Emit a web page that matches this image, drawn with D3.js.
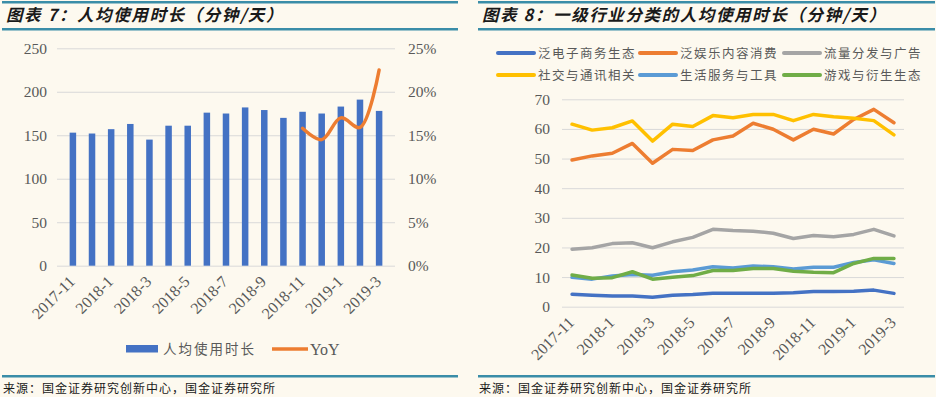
<!DOCTYPE html>
<html>
<head>
<meta charset="utf-8">
<script src="https://cdn.jsdelivr.net/npm/d3@7"></script>
<style>
  body { margin: 0; background: #fdf9ef; }
  svg { display: block; }
</style>
</head>
<body>
<div id="chart"></div>
<script>
// Data
const months = ["2017-11", "2017-12", "2018-1", "2018-2", "2018-3", "2018-4", "2018-5", "2018-6", "2018-7",
  "2018-8", "2018-9", "2018-10", "2018-11", "2018-12", "2019-1", "2019-2", "2019-3"];
const avgTime = [153, 152, 157, 163, 145, 161, 161, 176, 175, 182, 179, 170, 177, 175, 183, 191, 178];
const yoy = [null, null, null, null, null, null, null, null, null, null, null, null, 0.158, 0.145, 0.170, 0.159, 0.225];

const sectorNames = ["泛电子商务生态", "泛娱乐内容消费", "流量分发与广告", "社交与通讯相关", "生活服务与工具", "游戏与衍生生态"];
const ecommerce = [4.2, 3.9, 3.6, 3.6, 3.2, 3.9, 4.1, 4.5, 4.5, 4.5, 4.5, 4.7, 5.1, 5.1, 5.2, 5.6, 4.5];
const entertainment = [49.5, 50.9, 51.8, 55.1, 48.4, 53.1, 52.7, 56.3, 57.6, 61.9, 59.9, 56.3, 59.9, 58.3, 63.2, 66.6, 62.1];
const traffic = [19.4, 19.9, 21.3, 21.6, 19.9, 21.9, 23.4, 26.1, 25.7, 25.5, 24.8, 23.0, 24.0, 23.6, 24.4, 26.1, 23.9];
const social = [61.6, 59.6, 60.4, 62.7, 55.9, 61.6, 60.8, 64.5, 63.8, 64.9, 64.9, 62.8, 64.9, 64.1, 63.6, 62.8, 58.0];
const lifeTools = [9.9, 9.3, 10.4, 10.9, 10.6, 11.8, 12.4, 13.5, 13.1, 13.7, 13.5, 12.7, 13.3, 13.3, 14.9, 15.8, 14.6];
const games = [10.7, 9.6, 9.8, 11.8, 9.3, 9.9, 10.5, 12.2, 12.2, 12.9, 12.9, 12.0, 11.6, 11.5, 14.6, 16.3, 16.3];
const sectorSeries = [ecommerce, entertainment, traffic, social, lifeTools, games];
const sectorColors = ["#4472c4", "#ed7d31", "#a5a5a5", "#ffc000", "#5b9bd5", "#70ad47"];

const leftTicks = [0, 50, 100, 150, 200, 250];
const rightTicks = [0, 0.05, 0.1, 0.15, 0.2, 0.25];
const sectorTicks = [0, 10, 20, 30, 40, 50, 60, 70];

const width = 936, height = 397;
const teal = "#3a8da8";
const cjk = "'Noto Sans CJK SC', sans-serif";
const serif = "'Liberation Serif', 'Times New Roman', serif";

const svg = d3.select("#chart").append("svg")
  .attr("width", width)
  .attr("height", height);

svg.append("rect").attr("width", width).attr("height", height).attr("fill", "#fdf9ef");

// Frame: title, teal rules, source
function frame(x0, x1, title) {
  svg.append("rect").attr("x", x0).attr("y", 1).attr("width", x1 - x0).attr("height", 2.5).attr("fill", teal);
  svg.append("rect").attr("x", x0).attr("y", 28).attr("width", x1 - x0).attr("height", 2.5).attr("fill", teal);
  svg.append("rect").attr("x", x0).attr("y", 375).attr("width", x1 - x0).attr("height", 2.5).attr("fill", teal);
  svg.append("text")
    .attr("x", x0 + 4).attr("y", 21)
    .attr("font-family", cjk).attr("font-size", 16.5).attr("font-weight", "bold")
    .attr("font-style", "italic").attr("letter-spacing", 1.6).attr("fill", "#1a1a1a")
    .text(title);
  svg.append("text")
    .attr("x", x0 + 1).attr("y", 393)
    .attr("font-family", cjk).attr("font-size", 12).attr("letter-spacing", 1)
    .attr("fill", "#1a1a1a")
    .text("来源：国金证券研究创新中心，国金证券研究所");
}
frame(2, 458, "图表 7：人均使用时长（分钟/天）");
frame(478, 935, "图表 8：一级行业分类的人均使用时长（分钟/天）");

function styleGrid(g) {
  g.select(".domain").remove();
  g.selectAll(".tick line").attr("stroke", "#d9d9d9").attr("stroke-width", 1);
  g.selectAll(".tick text").attr("font-family", serif).attr("font-size", 15.5).attr("fill", "#595959");
}

function xLabels(x, axisY, labels) {
  svg.append("g").selectAll("text")
    .data(labels.filter((d, i) => i % 2 === 0))
    .join("text")
    .attr("transform", d => `translate(${x(d) + x.bandwidth() / 2 + 3},${axisY + 17}) rotate(-45)`)
    .attr("text-anchor", "end")
    .attr("font-family", serif).attr("font-size", 16).attr("fill", "#595959")
    .text(d => d);
}

// ---- Left chart: bars + YoY ----
const x1 = d3.scaleBand().domain(months).range([57, 395]).padding(0.66);
const y1 = d3.scaleLinear().domain([0, 250]).range([265.7, 48.3]);
const y1r = d3.scaleLinear().domain([0, 0.25]).range([265.7, 48.3]);

svg.append("g")
  .attr("transform", "translate(57,0)")
  .call(d3.axisLeft(y1).tickValues(leftTicks).tickSize(-(395 - 57)).tickPadding(10))
  .call(styleGrid);

svg.append("g")
  .attr("transform", "translate(395,0)")
  .call(d3.axisRight(y1r).tickValues(rightTicks).tickSize(0).tickPadding(13).tickFormat(d3.format(".0%")))
  .call(styleGrid);

svg.append("g").selectAll("rect")
  .data(avgTime)
  .join("rect")
  .attr("x", (d, i) => x1(months[i]))
  .attr("y", d => y1(d))
  .attr("width", x1.bandwidth())
  .attr("height", d => y1(0) - y1(d))
  .attr("fill", "#4472c4");

const yoyLine = d3.line()
  .defined(d => d != null)
  .x((d, i) => x1(months[i]) + x1.bandwidth() / 2)
  .y(d => y1r(d))
  .curve(d3.curveCatmullRom.alpha(0.5));

svg.append("path")
  .datum(yoy)
  .attr("d", yoyLine)
  .attr("fill", "none")
  .attr("stroke", "#ed7d31")
  .attr("stroke-width", 3.5)
  .attr("stroke-linecap", "round");

xLabels(x1, 265.7, months);

// Left legend
svg.append("rect").attr("x", 126).attr("y", 345).attr("width", 32).attr("height", 7.5).attr("fill", "#4472c4");
svg.append("text").attr("x", 163).attr("y", 354)
  .attr("font-family", cjk).attr("font-size", 13.5).attr("letter-spacing", 2).attr("fill", "#595959")
  .text("人均使用时长");
svg.append("line").attr("x1", 272).attr("x2", 308).attr("y1", 349).attr("y2", 349)
  .attr("stroke", "#ed7d31").attr("stroke-width", 3.5);
svg.append("text").attr("x", 310).attr("y", 355)
  .attr("font-family", serif).attr("font-size", 16).attr("fill", "#595959")
  .text("YoY");

// ---- Right chart: sector lines ----
const x2 = d3.scaleBand().domain(months).range([562, 904]);
const y2 = d3.scaleLinear().domain([0, 70]).range([306.7, 99.3]);

svg.append("g")
  .attr("transform", "translate(562,0)")
  .call(d3.axisLeft(y2).tickValues(sectorTicks).tickSize(-(904 - 562)).tickPadding(12))
  .call(styleGrid);

const sectorLine = d3.line()
  .x((d, i) => x2(months[i]) + x2.bandwidth() / 2)
  .y(d => y2(d));

svg.append("g").selectAll("path")
  .data(sectorSeries)
  .join("path")
  .attr("d", sectorLine)
  .attr("fill", "none")
  .attr("stroke", (d, i) => sectorColors[i])
  .attr("stroke-width", 3.5)
  .attr("stroke-linejoin", "round")
  .attr("stroke-linecap", "round");

xLabels(x2, 306.7, months);

// Right legend
const legendX = [498, 640, 784];
const legendY = [53, 75];
const legend = svg.append("g").selectAll("g")
  .data(sectorNames)
  .join("g")
  .attr("transform", (d, i) => `translate(${legendX[i % 3]},${legendY[Math.floor(i / 3)]})`);
legend.append("line")
  .attr("x1", 0).attr("x2", 36).attr("y1", 0).attr("y2", 0)
  .attr("stroke", (d, i) => sectorColors[i])
  .attr("stroke-width", 4).attr("stroke-linecap", "round");
legend.append("text")
  .attr("x", 40).attr("y", 5)
  .attr("font-family", cjk).attr("font-size", 12.5).attr("letter-spacing", 1.5).attr("fill", "#595959")
  .text(d => d);
</script>
</body>
</html>
